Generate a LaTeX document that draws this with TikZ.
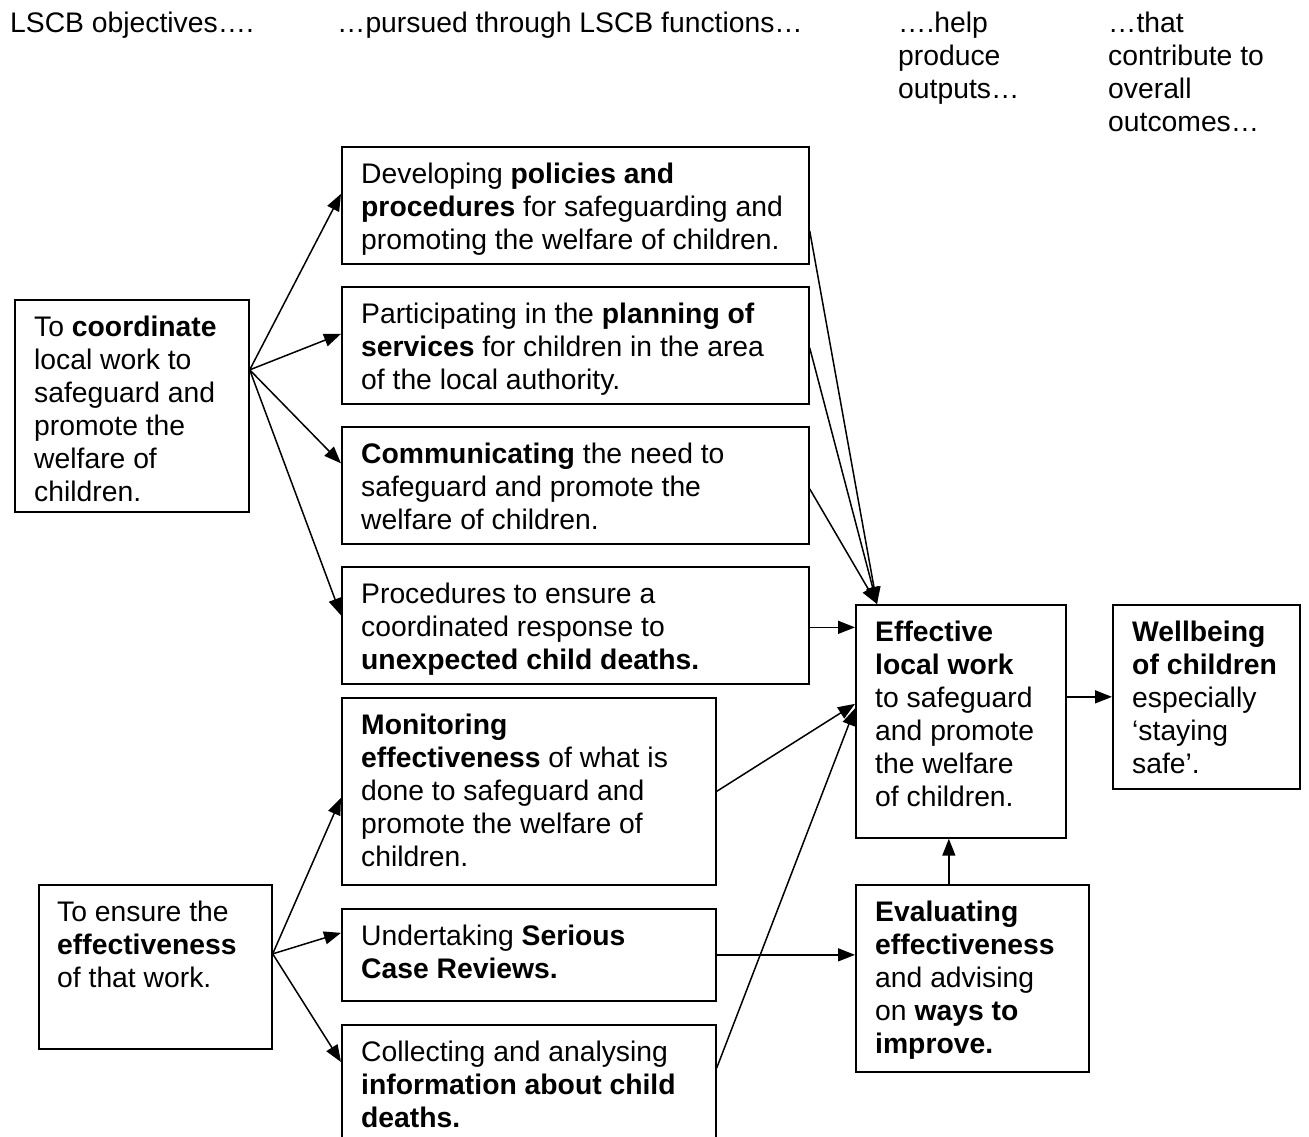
\documentclass[tikz,border=0pt]{standalone}
\usepackage{fontspec}
\setmainfont{Liberation Sans}
\usetikzlibrary{arrows.meta}
\tikzset{
  box/.style={draw, line width=1.7pt, inner sep=0pt, anchor=north west, fill=white},
  txt/.style={anchor=north west, inner sep=0pt, align=left, font=\fontsize{28.3}{33}\selectfont},
  arr/.style={line width=1.5pt, -{Triangle[length=17pt,width=13pt]}},
  ln/.style={line width=1.5pt}
}
\newcommand{\fl}{\rule{0pt}{22pt}}
\begin{document}
\begin{tikzpicture}[x=1pt,y=-1pt]
\useasboundingbox (0,0) rectangle (1309,1137);
\clip (0,0) rectangle (1309,1137);
\fill[white] (0,0) rectangle (1309,1137);
% headers
\node[txt] (h1) at (10,10) {\fl LSCB objectives….};
\node[txt] (h2) at (337,10) {\fl …pursued through LSCB functions…};
\node[txt] (h3) at (898,10) {\fl ….help\\produce\\outputs…};
\node[txt] (h4) at (1108,10) {\fl …that\\contribute to\\overall\\outcomes…};
% boxes
\node[box, minimum width=234pt, minimum height=212pt] (L1) at (14,299) {};
\node[box, minimum width=233pt, minimum height=164pt] (L2) at (38,884) {};
\node[box, minimum width=467pt, minimum height=117pt] (F1) at (341,146) {};
\node[box, minimum width=467pt, minimum height=117pt] (F2) at (341,286) {};
\node[box, minimum width=467pt, minimum height=117pt] (F3) at (341,426) {};
\node[box, minimum width=467pt, minimum height=117pt] (F4) at (341,566) {};
\node[box, minimum width=374pt, minimum height=187pt] (F5) at (341,697) {};
\node[box, minimum width=374pt, minimum height=92pt] (F6) at (341,908) {};
\node[box, minimum width=374pt, minimum height=150pt] (F7) at (341,1024) {};
\node[box, minimum width=210pt, minimum height=233pt] (E) at (855,604) {};
\node[box, minimum width=187pt, minimum height=184pt] (W) at (1112,604) {};
\node[box, minimum width=233pt, minimum height=187pt] (V) at (855,884) {};
% texts
\node[txt] (tL1) at ([xshift=20pt,yshift=-15pt]L1.north west) {\fl To \textbf{coordinate}\\local work to\\safeguard and\\promote the\\welfare of\\children.};
\node[txt] (tL2) at ([xshift=19pt,yshift=-15pt]L2.north west) {\fl To ensure the\\\textbf{effectiveness}\\of that work.};
\node[txt] (tF1) at ([xshift=20pt,yshift=-15pt]F1.north west) {\fl Developing \textbf{policies and}\\\textbf{procedures} for safeguarding and\\promoting the welfare of children.};
\node[txt] (tF2) at ([xshift=20pt,yshift=-15pt]F2.north west) {\fl Participating in the \textbf{planning of}\\\textbf{services} for children in the area\\of the local authority.};
\node[txt] (tF3) at ([xshift=20pt,yshift=-15pt]F3.north west) {\fl \textbf{Communicating} the need to\\safeguard and promote the\\welfare of children.};
\node[txt] (tF4) at ([xshift=20pt,yshift=-15pt]F4.north west) {\fl Procedures to ensure a\\coordinated response to\\\textbf{unexpected child deaths.}};
\node[txt] (tF5) at ([xshift=20pt,yshift=-15pt]F5.north west) {\fl \textbf{Monitoring}\\\textbf{effectiveness} of what is\\done to safeguard and\\promote the welfare of\\children.};
\node[txt] (tF6) at ([xshift=20pt,yshift=-15pt]F6.north west) {\fl Undertaking \textbf{Serious}\\\textbf{Case Reviews.}};
\node[txt] (tF7) at ([xshift=20pt,yshift=-15pt]F7.north west) {\fl Collecting and analysing\\\textbf{information about child}\\\textbf{deaths.}};
\node[txt] (tE) at ([xshift=20pt,yshift=-15pt]E.north west) {\fl \textbf{Effective}\\\textbf{local work}\\to safeguard\\and promote\\the welfare\\of children.};
\node[txt] (tW) at ([xshift=20pt,yshift=-15pt]W.north west) {\fl \textbf{Wellbeing}\\\textbf{of children}\\especially\\‘staying\\safe’.};
\node[txt] (tV) at ([xshift=20pt,yshift=-15pt]V.north west) {\fl \textbf{Evaluating}\\\textbf{effectiveness}\\and advising\\on \textbf{ways to}\\\textbf{improve.}};
% arrows from L1
\coordinate (o1) at ([yshift=36pt]L1.east);
\draw[arr] (o1) -- ([yshift=11.5pt]F1.west);
\draw[arr] (o1) -- ([yshift=11.5pt]F2.west);
\draw[arr] (o1) -- ([yshift=22pt]F3.west);
\draw[arr] (o1) -- ([yshift=10pt]F4.west);
% arrows from L2
\coordinate (o2) at ([yshift=13pt]L2.east);
\draw[arr] (o2) -- ([yshift=-6.5pt]F5.west);
\draw[arr] (o2) -- ([yshift=22pt]F6.west);
\draw[arr] (o2) -- ([yshift=-38pt]F7.north west);
% to E
\coordinate (eT) at ([xshift=22pt]E.north west);
\draw[arr] ([yshift=-25.5pt]F1.east) -- (eT);
\draw[arr] ([yshift=-2.5pt]F2.east) -- (eT);
\draw[arr] ([yshift=-3.5pt]F3.east) -- (eT);
\draw[arr] ([yshift=-2pt]F4.east) -- ([yshift=-2pt]F4.east -| E.west);
\draw[arr] (F5.east) -- ([yshift=17.5pt]E.west);
\draw[arr] ([yshift=-44pt]F7.north east) -- ([yshift=13pt]E.west);
\draw[arr] (W.west -| E.east) -- (W.west);
\draw[arr] ([xshift=-12pt]E.south |- V.north) -- ([xshift=-12pt]E.south);
\draw[arr] (F6.east) -- (F6.east -| V.west);
\end{tikzpicture}
\end{document}
